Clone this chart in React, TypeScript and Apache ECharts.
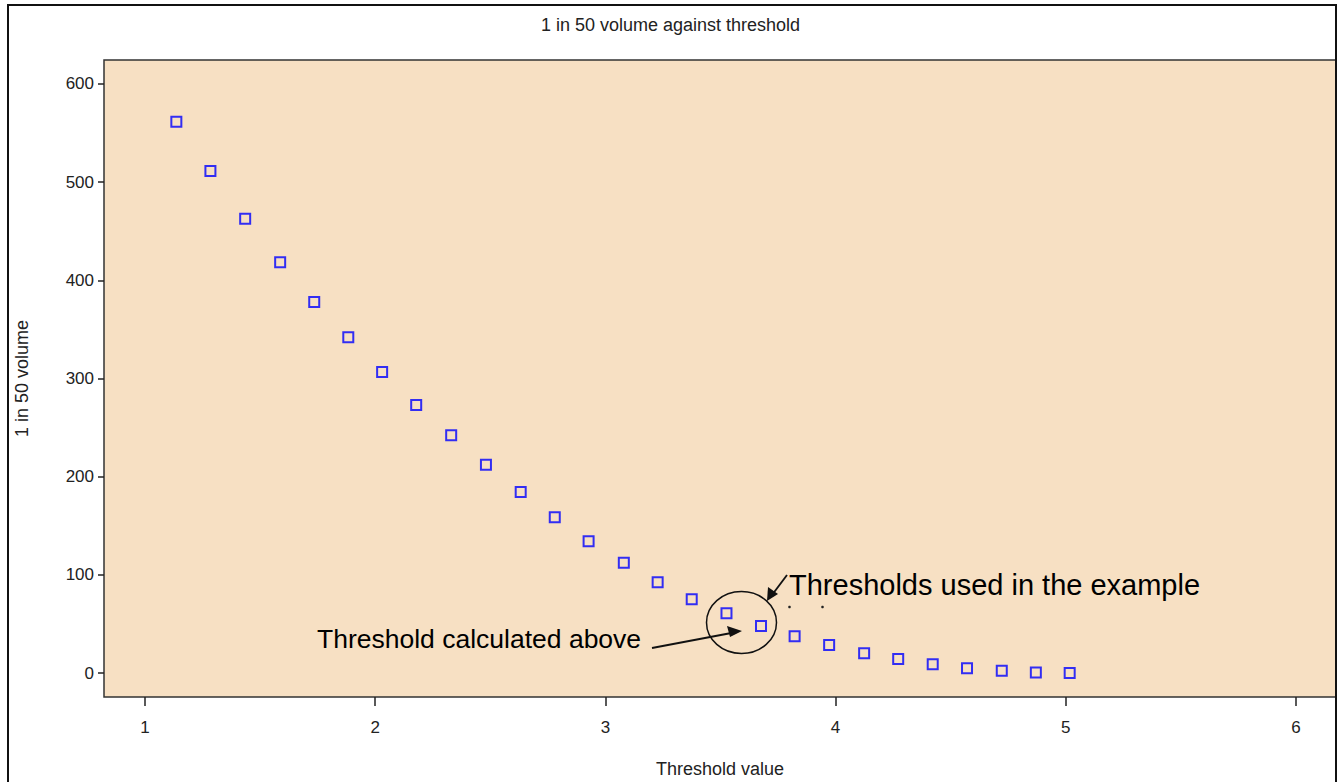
import React, { useEffect, useRef } from "react";
import * as echarts from "echarts";

const thresholds = [
  1.136, 1.284, 1.435, 1.587, 1.735, 1.883, 2.03, 2.178, 2.33, 2.481, 2.632, 2.78, 2.927, 3.08,
  3.227, 3.375, 3.526, 3.676, 3.822, 3.972, 4.124, 4.272, 4.422, 4.571, 4.722, 4.87, 5.017,
];
const volumes = [
  561.6, 511.4, 462.8, 418.4, 377.9, 342.0, 306.6, 273.0, 242.1, 212.2, 184.4, 158.6, 134.2, 112.4,
  92.4, 75.1, 60.8, 47.9, 37.4, 28.5, 20.1, 14.3, 8.9, 4.8, 2.3, 0.5, 0,
];
const xTicks = [1, 2, 3, 4, 5, 6];
const yTicks = [0, 100, 200, 300, 400, 500, 600];

const titleText = "1 in 50 volume against threshold";
const xName = "Threshold value";
const yName = "1 in 50 volume";
const noteUsed = "Thresholds used in the example";
const noteCalc = "Threshold calculated above";

export default function App() {
  const ref = useRef<HTMLDivElement>(null);
  useEffect(() => {
    document.body.style.margin = "0";
    document.body.style.overflow = "hidden";
    const chart = echarts.init(ref.current!, null, { renderer: "svg" });
    const font = "'Liberation Sans', Arial, sans-serif";
    const small = { fontFamily: font, fontSize: 17, color: "#222" };
    const nameStyle = { fontFamily: font, fontSize: 18, color: "#222" };
    chart.setOption({
      animation: false,
      backgroundColor: "#ffffff",
      title: {
        text: titleText,
        left: "center",
        top: 11,
        textStyle: { ...nameStyle, fontWeight: "normal" },
      },
      grid: {
        left: 104,
        top: 60,
        right: 5,
        bottom: 85,
        show: true,
        backgroundColor: "#F7E0C3",
        borderColor: "#333",
        borderWidth: 1.5,
        containLabel: false,
        outerBoundsMode: "none",
      },
      xAxis: {
        type: "value",
        min: 0.8217,
        max: 6.174,
        name: xName,
        nameLocation: "middle",
        nameGap: 63,
        nameTextStyle: nameStyle,
        axisLine: { show: false, onZero: false },
        splitLine: { show: false },
        axisTick: {
          show: true,
          length: 9,
          customValues: xTicks,
          lineStyle: { color: "#222", width: 1.5 },
        },
        axisLabel: { ...small, margin: 22, customValues: xTicks },
      },
      yAxis: {
        type: "value",
        min: -24.4,
        max: 624.4,
        name: yName,
        nameLocation: "middle",
        nameGap: 73,
        nameTextStyle: nameStyle,
        axisLine: { show: false, onZero: false },
        splitLine: { show: false },
        axisTick: {
          show: true,
          length: 6,
          customValues: yTicks,
          lineStyle: { color: "#222", width: 1.5 },
        },
        axisLabel: { ...small, margin: 10, customValues: yTicks },
      },
      series: [
        {
          type: "scatter",
          data: thresholds.map((t, i) => [t, volumes[i]]),
          symbol: "rect",
          symbolSize: 10,
          itemStyle: {
            color: "rgba(0,0,0,0)",
            borderColor: "#0000ff",
            borderWidth: 2,
          },
          z: 5,
        },
      ],
      graphic: [
        {
          type: "rect",
          shape: { x: 8, y: 5, width: 1328, height: 800 },
          style: { fill: "none", stroke: "#111", lineWidth: 2 },
          z: 100,
          silent: true,
        },
        {
          type: "ellipse",
          shape: { cx: 741.5, cy: 622.5, rx: 35, ry: 31 },
          style: { fill: "none", stroke: "#111", lineWidth: 1.5 },
          z: 100,
        },
        {
          type: "line",
          shape: { x1: 652, y1: 648, x2: 734, y2: 632.5 },
          style: { stroke: "#111", lineWidth: 1.8 },
          z: 100,
        },
        {
          type: "polygon",
          shape: { points: [[742, 631], [727, 626], [730, 637]] },
          style: { fill: "#111" },
          z: 100,
        },
        {
          type: "line",
          shape: { x1: 787, y1: 575, x2: 772, y2: 595 },
          style: { stroke: "#111", lineWidth: 1.8 },
          z: 100,
        },
        {
          type: "polygon",
          shape: { points: [[767, 601], [768, 587], [778, 594]] },
          style: { fill: "#111" },
          z: 100,
        },
        {
          type: "text",
          x: 789,
          y: 585,
          style: {
            text: noteUsed,
            fontFamily: font,
            fontSize: 29,
            fill: "#000",
            verticalAlign: "middle",
          },
          z: 100,
        },
        {
          type: "text",
          x: 317,
          y: 639,
          style: {
            text: noteCalc,
            fontFamily: font,
            fontSize: 26.5,
            fill: "#000",
            verticalAlign: "middle",
          },
          z: 100,
        },
        {
          type: "circle",
          shape: { cx: 789.5, cy: 607, r: 1.3 },
          style: { fill: "#222" },
          z: 100,
        },
        {
          type: "circle",
          shape: { cx: 822.5, cy: 607, r: 1.3 },
          style: { fill: "#222" },
          z: 100,
        },
      ],
    });
    return () => chart.dispose();
  }, []);
  return <div ref={ref} style={{ width: 1341, height: 782 }} />;
}
